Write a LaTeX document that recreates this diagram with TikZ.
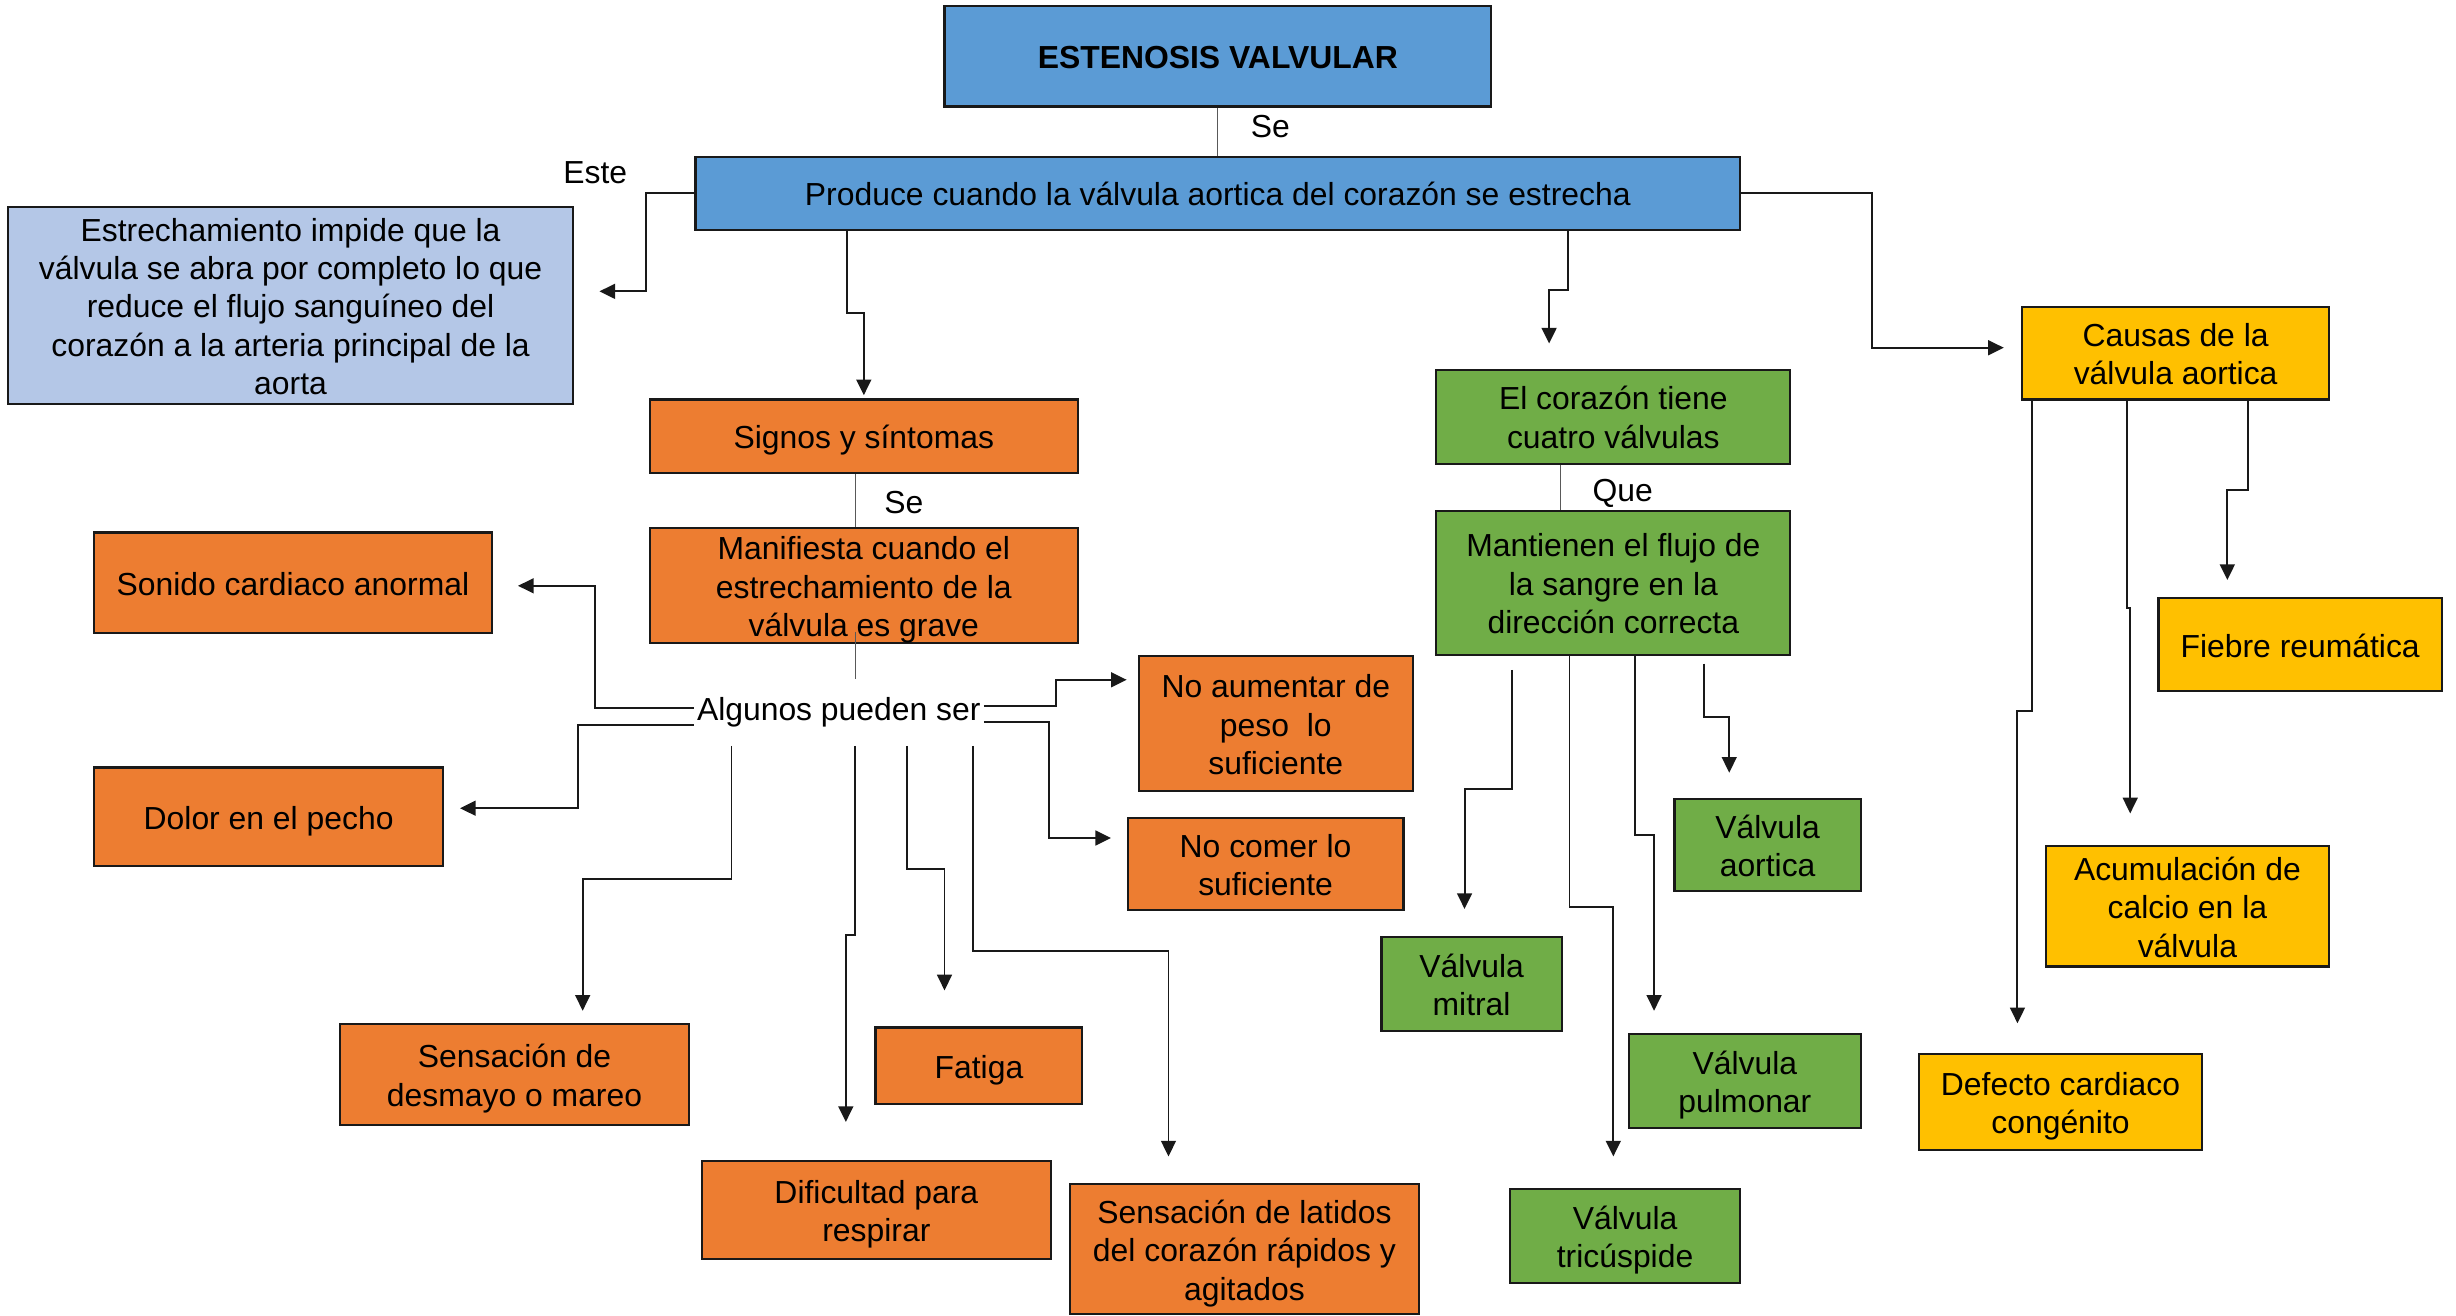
\documentclass[tikz,border=0pt]{standalone}
\usepackage{fontspec}
\setmainfont{Liberation Sans}
\usetikzlibrary{arrows.meta}
\definecolor{cblue}{HTML}{5B9BD5}
\definecolor{clight}{HTML}{B4C7E7}
\definecolor{corange}{HTML}{ED7D31}
\definecolor{cgreen}{HTML}{70AD47}
\definecolor{cgold}{HTML}{FFC000}
\newcommand\fsz{\fontsize{20.35}{24.5}\selectfont}
\newcommand\SL{\rule[-4.25pt]{0pt}{24.5pt}}
\tikzset{
  box/.style={draw=black!90, line width=1.4pt, align=center, inner sep=0pt, font=\fsz},
  bx/.style n args={2}{box, minimum width=#1pt, minimum height=#2pt},
  lbl/.style={inner sep=0pt, font=\fsz},
  conn/.style={line width=1.25pt, draw=black!90},
  arr/.style={conn, -{Triangle[length=10pt,width=9.5pt]}},
  thinln/.style={line width=0.7pt, draw=black!65}
}
\begin{document}
\begin{tikzpicture}[x=1pt,y=-1pt]
\useasboundingbox (0,0) rectangle (1568,840);
% boxes
\node[bx={349}{64}, fill=cblue] (est) at (777.5,36) {\SL\bfseries ESTENOSIS VALVULAR};
\node[bx={667}{47}, fill=cblue] (prod) at (777.5,123.5) {\SL Produce cuando la válvula aortica del corazón se estrecha};
\node[bx={361}{126}, fill=clight] (estr) at (185.5,195) {\SL Estrechamiento impide que la\\\SL válvula se abra por completo lo que\\\SL reduce el flujo sanguíneo del\\\SL corazón a la arteria principal de la\\\SL aorta};
\node[bx={273}{47}, fill=corange] (sig) at (551.5,278.5) {\SL Signos y síntomas};
\node[bx={273}{72}, fill=corange] (man) at (551.5,374) {\SL Manifiesta cuando el\\\SL estrechamiento de la\\\SL válvula es grave};
\node[bx={254}{64}, fill=corange] (son) at (187,372) {\SL Sonido cardiaco anormal};
\node[bx={223}{63}, fill=corange] (dol) at (171.5,521.5) {\SL Dolor en el pecho};
\node[bx={175}{86}, fill=corange] (noa) at (814.5,462) {\SL No aumentar de\\\SL peso~ lo\\\SL suficiente};
\node[bx={176}{59}, fill=corange] (noc) at (808,551.5) {\SL No comer lo\\\SL suficiente};
\node[bx={223}{64}, fill=corange] (des) at (328.5,686) {\SL Sensación de\\\SL desmayo o mareo};
\node[bx={132}{49}, fill=corange] (fat) at (625,680.5) {\SL Fatiga};
\node[bx={223}{63}, fill=corange] (dif) at (559.5,772.5) {\SL Dificultad para\\\SL respirar};
\node[bx={223}{83}, fill=corange] (lat) at (794.5,797.5) {\SL Sensación de latidos\\\SL del corazón rápidos y\\\SL agitados};
\node[bx={226}{60}, fill=cgreen] (cor) at (1030,266) {\SL El corazón tiene\\\SL cuatro válvulas};
\node[bx={226}{92}, fill=cgreen] (mant) at (1030,372) {\SL Mantienen el flujo de\\\SL la sangre en la\\\SL dirección correcta};
\node[bx={115}{60}, fill=cgreen] (mit) at (939.5,628) {\SL Válvula\\\SL mitral};
\node[bx={119}{59}, fill=cgreen] (aor) at (1128.5,539.5) {\SL Válvula\\\SL aortica};
\node[bx={148}{60}, fill=cgreen] (pul) at (1114,690) {\SL Válvula\\\SL pulmonar};
\node[bx={147}{60}, fill=cgreen] (tri) at (1037.5,789) {\SL Válvula\\\SL tricúspide};
\node[bx={196}{59}, fill=cgold] (cau) at (1389,225.5) {\SL Causas de la\\\SL válvula aortica};
\node[bx={181}{59}, fill=cgold] (fie) at (1468.5,411.5) {\SL Fiebre reumática};
\node[bx={181}{77}, fill=cgold] (acu) at (1396.5,578.5) {\SL Acumulación de\\\SL calcio en la\\\SL válvula};
\node[bx={181}{61}, fill=cgold] (def) at (1315.5,703.5) {\SL Defecto cardiaco\\\SL congénito};
% text node
\node[lbl, inner xsep=2pt, minimum height=42pt] (alg) at (535.5,455) {Algunos pueden ser};
% labels
\node[lbl] (lse1) at (811,81) {Se};
\node[lbl] (leste) at (380,110) {Este};
\node[lbl] (lse2) at (577,321) {Se};
\node[lbl] (lque) at (1036,315) {Que};
% thin connectors
\draw[thinln] (est.south) -- (prod.north);
\draw[thinln] (sig.south -| 546,0) -- (man.north -| 546,0);
\draw[thinln] (man.south -| 546,0) ++(0,-8) -- (alg.north -| 546,0);
\draw[thinln] (cor.south -| 996,0) -- (mant.north -| 996,0);
% from Produce
\draw[arr, shorten >=16pt] (prod.west) -- ++(-31,0) |- (estr.east |- 0,186);
\draw[arr, shorten >=2pt] (prod.south -| 541,0) |- (551.5,200) -- (sig.north);
\draw[arr, shorten >=16pt] (prod.south -| 1001,0) |- (989,185) -- (cor.north -| 989,0);
\draw[arr, shorten >=11pt] (prod.east) -| (1195,222) -- (cau.west |- 0,222);
% from Algunos
\draw[arr, shorten >=16pt] (alg.west |- 0,452) -| (380,374) -- (son.east |- 0,374);
\draw[arr, shorten >=10pt] (alg.west |- 0,463) -| (369,516) -- (dol.east |- 0,516);
\draw[arr, shorten >=8pt] (alg.south -| 467,0) |- (372,561) -- (des.north -| 372,0);
\draw[arr, shorten >=24pt] (alg.south -| 546,0) |- (540,597) -- (dif.north -| 540,0);
\draw[arr, shorten >=23pt] (alg.south -| 579,0) |- (603,555) -- (fat.north -| 603,0);
\draw[arr, shorten >=17pt] (alg.south -| 621,0) |- (746,607) -- (lat.north -| 746,0);
\draw[arr, shorten >=7pt] (alg.east |- 0,451) -| (674,434) -- (noa.west |- 0,434);
\draw[arr, shorten >=10pt] (alg.east |- 0,461) -| (670,535) -- (noc.west |- 0,535);
% from Mantienen
\draw[arr, shorten >=17pt] (mant.south -| 965,0) ++(0,9) |- (935,504) -- (mit.north -| 935,0);
\draw[arr, shorten >=20pt] (mant.south -| 1002,0) |- (1030,579) -- (tri.north -| 1030,0);
\draw[arr, shorten >=14pt] (mant.south -| 1044,0) |- (1056,533) -- (pul.north -| 1056,0);
\draw[arr, shorten >=16pt] (mant.south -| 1088,0) ++(0,5) |- (1104,458) -- (aor.north -| 1104,0);
% from Causas
\draw[arr, shorten >=11pt] (cau.south -| 1435,0) |- (1422,313) -- (fie.north -| 1422,0);
\draw[arr, shorten >=20pt] (cau.south -| 1358,0) |- (1360,388) -- (acu.north -| 1360,0);
\draw[arr, shorten >=19pt] (cau.south -| 1297,0) |- (1288,454) -- (def.north -| 1288,0);
\end{tikzpicture}
\end{document}
